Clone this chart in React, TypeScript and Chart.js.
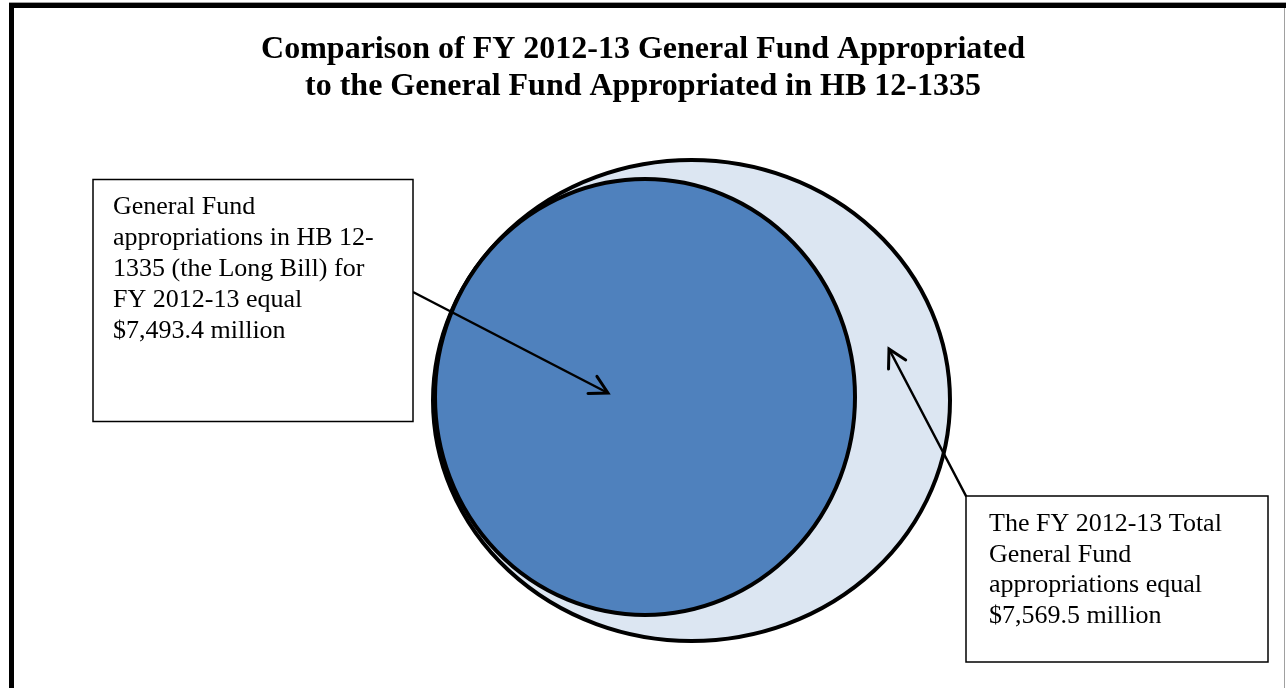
import React, { useEffect, useRef } from "react";
import { Chart, registerables } from "chart.js";

Chart.register(...registerables);

// ---- Data ----
const CATEGORIES = [
  "FY 2012-13 Total General Fund appropriations",
  "General Fund appropriations in HB 12-1335 (the Long Bill)",
];
const VALUES_MILLIONS = [7569.5, 7493.4];
const TITLE_LINES = [
  "Comparison of FY 2012-13 General Fund Appropriated",
  "to the General Fund Appropriated in HB 12-1335",
];
const fmt = (v: number) =>
  "$" + v.toLocaleString("en-US", { minimumFractionDigits: 1, maximumFractionDigits: 1 }) + " million";
const LABEL_SMALL = [
  "General Fund",
  "appropriations in HB 12-",
  "1335 (the Long Bill) for",
  "FY 2012-13 equal",
  fmt(VALUES_MILLIONS[1]),
];
const LABEL_BIG = [
  "The FY 2012-13 Total",
  "General Fund",
  "appropriations equal",
  fmt(VALUES_MILLIONS[0]),
];

// ---- Layout (diagram units, mapped through the chart's scales) ----
const ELLIPSES = [
  { cx: 691.5, cy: 400.5, rx: 258.5, ry: 240.5 },
  { cx: 645, cy: 397, rx: 210, ry: 218 },
];
const FILLS = ["#DCE6F2", "#4F81BD"];
const BOXES = [
  { x: 93, y: 179.5, w: 320, h: 242, tx: 113, ty: 213.5, lh: 31, lines: LABEL_SMALL },
  { x: 966, y: 496, w: 302, h: 166, tx: 989, ty: 531, lh: 30.5, lines: LABEL_BIG },
];
const ARROWS = [
  { x1: 413, y1: 292, x2: 608, y2: 393 },
  { x1: 966, y1: 496, x2: 889, y2: 349 },
];
const SERIF = '"Liberation Serif", "Times New Roman", Times, serif';

const diagramPlugin = {
  id: "diagram",
  afterDatasetsDraw(chart: any) {
    const ctx = chart.ctx as CanvasRenderingContext2D;
    const xs = chart.scales.x;
    const ys = chart.scales.y;
    const px = (v: number) => xs.getPixelForValue(v);
    const py = (v: number) => ys.getPixelForValue(v);
    ctx.save();
    // ellipses from datasets
    chart.data.datasets.forEach((ds: any, i: number) => {
      const meta = chart.getDatasetMeta(i);
      const pt = meta.data[0];
      const g = ELLIPSES[i];
      const rx = Math.abs(px(g.cx + g.rx) - px(g.cx));
      const ry = Math.abs(py(g.cy + g.ry) - py(g.cy));
      ctx.beginPath();
      ctx.ellipse(pt.x, pt.y, rx, ry, 0, 0, Math.PI * 2);
      ctx.fillStyle = ds.backgroundColor;
      ctx.fill();
      ctx.lineWidth = 4;
      ctx.strokeStyle = "#000";
      ctx.stroke();
    });
    // arrows
    ARROWS.forEach((a) => {
      const x1 = px(a.x1), y1 = py(a.y1), x2 = px(a.x2), y2 = py(a.y2);
      ctx.beginPath();
      ctx.moveTo(x1, y1);
      ctx.lineTo(x2, y2);
      ctx.lineWidth = 2.5;
      ctx.strokeStyle = "#000";
      ctx.stroke();
      const ang = Math.atan2(y2 - y1, x2 - x1);
      const len = 20, half = (29 * Math.PI) / 180;
      ctx.beginPath();
      ctx.moveTo(x2 - len * Math.cos(ang - half), y2 - len * Math.sin(ang - half));
      ctx.lineTo(x2, y2);
      ctx.lineTo(x2 - len * Math.cos(ang + half), y2 - len * Math.sin(ang + half));
      ctx.lineWidth = 3;
      ctx.lineCap = "round";
      ctx.lineJoin = "miter";
      ctx.stroke();
    });
    // boxes
    BOXES.forEach((b) => {
      const x = px(b.x), y = py(b.y);
      const w = px(b.x + b.w) - x, h = py(b.y + b.h) - y;
      ctx.fillStyle = "#fff";
      ctx.fillRect(x, y, w, h);
      ctx.lineWidth = 1.5;
      ctx.strokeStyle = "#000";
      ctx.strokeRect(x, y, w, h);
      ctx.fillStyle = "#000";
      ctx.font = `26px ${SERIF}`;
      ctx.textBaseline = "alphabetic";
      ctx.textAlign = "left";
      b.lines.forEach((t, k) => {
        ctx.fillText(t, px(b.tx), py(b.ty + k * b.lh));
      });
    });
    ctx.restore();
  },
  afterDraw(chart: any) {
    const ctx = chart.ctx as CanvasRenderingContext2D;
    ctx.save();
    ctx.fillStyle = "#000";
    ctx.fillRect(9, 3, 1277, 5);
    ctx.fillRect(9, 3, 5, 685);
    ctx.fillStyle = "#a0a0a0";
    ctx.fillRect(9, 2, 1277, 1);
    ctx.fillRect(1284, 8, 1, 680);
    ctx.restore();
  },
};

export default function App() {
  const ref = useRef<HTMLCanvasElement | null>(null);
  useEffect(() => {
    document.body.style.margin = "0";
    document.body.style.background = "#fff";
    if (!ref.current) return;
    const chart = new Chart(ref.current, {
      type: "scatter",
      data: {
        datasets: CATEGORIES.map((c, i) => ({
          label: c,
          data: [{ x: ELLIPSES[i].cx, y: ELLIPSES[i].cy, v: VALUES_MILLIONS[i] } as any],
          pointRadius: 0,
          backgroundColor: FILLS[i],
        })),
      },
      options: {
        animation: false,
        responsive: false,
        devicePixelRatio: 1,
        layout: { padding: 0 },
        scales: {
          x: { type: "linear", min: 0, max: 1286, display: false },
          y: { type: "linear", min: 120, max: 688, reverse: true, display: false },
        },
        plugins: {
          legend: { display: false },
          tooltip: { enabled: false },
          title: {
            display: true,
            text: TITLE_LINES,
            color: "#000",
            font: { family: SERIF, size: 32, weight: "bold", lineHeight: "37px" as any },
            padding: { top: 31, bottom: 15 },
          },
        },
      },
      plugins: [diagramPlugin],
    });
    return () => chart.destroy();
  }, []);
  return (
    <div style={{ width: 1286, height: 688, background: "#fff" }}>
      <canvas ref={ref} width={1286} height={688} style={{ display: "block" }} />
    </div>
  );
}
